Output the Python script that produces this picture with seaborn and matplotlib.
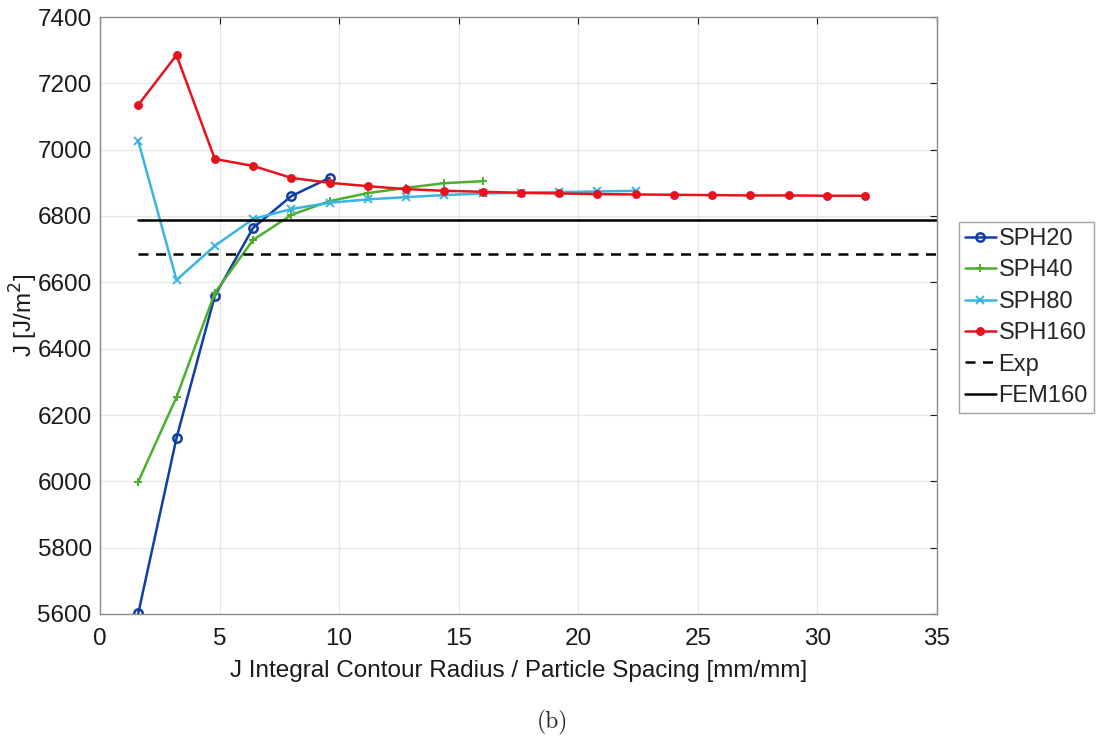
import numpy as np
import pandas as pd
import matplotlib
matplotlib.use("Agg")
import matplotlib.pyplot as plt
import seaborn as sns

x20 = [1.6, 3.2, 4.8, 6.4, 8.0, 9.6]
y20 = [5602, 6131, 6559, 6764, 6860, 6915]
x40 = [1.6, 3.2, 4.8, 6.4, 8.0, 9.6, 11.2, 12.8, 14.4, 16.0]
y40 = [5999, 6254, 6568, 6728, 6803, 6845, 6869, 6885, 6899, 6905]
x80 = [1.6, 3.2, 4.8, 6.4, 8.0, 9.6, 11.2, 12.8, 14.4, 16.0, 17.6, 19.2, 20.8, 22.4]
y80 = [7026, 6607, 6710, 6791, 6821, 6840, 6850, 6857, 6863, 6868, 6870, 6872, 6874, 6876]
x160 = [1.6, 3.2, 4.8, 6.4, 8.0, 9.6, 11.2, 12.8, 14.4, 16.0, 17.6, 19.2, 20.8, 22.4,
        24.0, 25.6, 27.2, 28.8, 30.4, 32.0]
y160 = [7135, 7285, 6972, 6951, 6915, 6900, 6890, 6881, 6876, 6873, 6870, 6868, 6866, 6865,
        6864, 6863, 6862, 6862, 6861, 6861]
exp_val = 6686
fem_val = 6788
ref_x = [1.6, 35.0]

series = {"SPH20": (x20, y20), "SPH40": (x40, y40), "SPH80": (x80, y80), "SPH160": (x160, y160)}
rows = []
for name, (xs, ys) in series.items():
    for a, b in zip(xs, ys):
        rows.append({"x": a, "J": b, "series": name})
df = pd.DataFrame(rows)

colors = {"SPH20": "#0f3ea5", "SPH40": "#4caf2e", "SPH80": "#3ab4e2", "SPH160": "#e8121c"}
markers = {"SPH20": "o", "SPH40": "+", "SPH80": "x", "SPH160": "."}

sns.set_style("white")
plt.rcParams['font.family'] = ['Liberation Sans', 'DejaVu Sans']
FS = 17.5

fig = plt.figure(figsize=(11.01, 7.44), dpi=100)
ax = fig.add_axes([100/1101, 1-614/744, 837/1101, 597/744])

for name in series:
    sub = df[df.series == name]
    mk = markers[name]
    kw = dict(marker=mk, markersize=6 if mk != "." else 10,
              markeredgewidth=1.8 if mk == "o" else 1.4)
    if mk == "o":
        kw["markerfacecolor"] = "none"
    sns.lineplot(data=sub, x="x", y="J", ax=ax, color=colors[name], linewidth=1.8,
                 label=name, markeredgecolor=colors[name], **kw)

sns.lineplot(x=ref_x, y=[exp_val, exp_val], ax=ax, color="black", linewidth=1.8,
             linestyle=(0, (4, 3)), label="Exp")
sns.lineplot(x=ref_x, y=[fem_val, fem_val], ax=ax, color="black", linewidth=1.8, label="FEM160")

ax.set_xlim(0, 35)
ax.set_ylim(5600, 7400)
ax.set_xticks(np.arange(0, 36, 5))
ax.set_yticks(np.arange(5600, 7401, 200))
ax.grid(True, color="#e6e6e6", linewidth=0.9)
ax.tick_params(direction="in", length=5, labelsize=FS, colors="#1a1a1a", top=True, right=True)
ax.tick_params(axis="x", pad=10)
ax.tick_params(axis="y", pad=6)
for s in ax.spines.values():
    s.set_color("#8c8c8c")
    s.set_linewidth(1.0)
ax.set_xlabel("J Integral Contour Radius / Particle Spacing [mm/mm]", fontsize=FS, color="#1a1a1a")
ax.set_ylabel("J [J/m$^2$]", fontsize=FS, color="#1a1a1a")
ax.xaxis.set_label_coords(0.5, (614 - 660) / 597)
ax.yaxis.set_label_coords((40 - 100) / 837, 0.5)

leg = ax.legend(loc="upper left", bbox_to_anchor=(959/1101, 1-222/744),
                bbox_transform=fig.transFigure, borderaxespad=0,
                fontsize=17, frameon=True, fancybox=False, handlelength=1.3,
                handletextpad=0.12, borderpad=0.25, labelspacing=0.4,
                edgecolor="#8c8c8c")
leg.get_frame().set_linewidth(1.0)

fig.text(552/1101, 1-722/744, "(b)", fontsize=17, family=["cmr10", "DejaVu Serif"],
         ha="center", va="center")

fig.savefig("out.png", dpi=100)
